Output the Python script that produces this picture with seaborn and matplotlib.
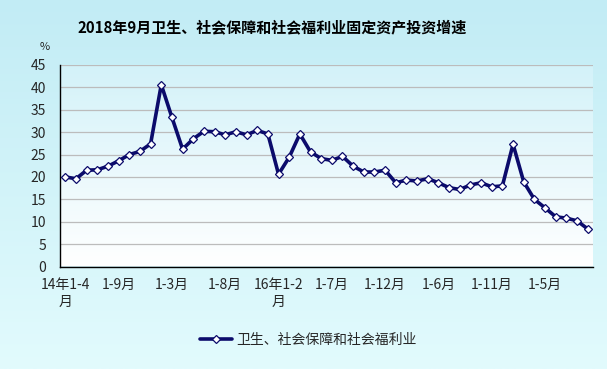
import numpy as np
import pandas as pd
import matplotlib
matplotlib.use("Agg")
import matplotlib.pyplot as plt
import seaborn as sns
from matplotlib.lines import Line2D
from matplotlib.colors import LinearSegmentedColormap

# ---------------- data ----------------
title = "2018年9月卫生、社会保障和社会福利业固定资产投资增速"
series_name = "卫生、社会保障和社会福利业"

periods_2014 = ["2014年1-4月", "2014年1-5月", "2014年1-6月", "2014年1-7月", "2014年1-8月",
                "2014年1-9月", "2014年1-10月", "2014年1-11月", "2014年1-12月"]
periods_2015 = ["2015年1-2月", "2015年1-3月", "2015年1-4月", "2015年1-5月", "2015年1-6月",
                "2015年1-7月", "2015年1-8月", "2015年1-9月", "2015年1-10月", "2015年1-11月",
                "2015年1-12月"]
periods_2016 = ["2016年1-2月", "2016年1-3月", "2016年1-4月", "2016年1-5月", "2016年1-6月",
                "2016年1-7月", "2016年1-8月", "2016年1-9月", "2016年1-10月", "2016年1-11月",
                "2016年1-12月"]
periods_2017 = ["2017年1-2月", "2017年1-3月", "2017年1-4月", "2017年1-5月", "2017年1-6月",
                "2017年1-7月", "2017年1-8月", "2017年1-9月", "2017年1-10月", "2017年1-11月",
                "2017年1-12月"]
periods_2018 = ["2018年1-2月", "2018年1-3月", "2018年1-4月", "2018年1-5月", "2018年1-6月",
                "2018年1-7月", "2018年1-8月", "2018年1-9月"]

values_2014 = [20.0, 19.6, 21.5, 21.6, 22.4, 23.6, 25.0, 25.7, 27.4]
values_2015 = [40.6, 33.3, 26.2, 28.5, 30.2, 30.1, 29.4, 30.1, 29.4, 30.4, 29.6]
values_2016 = [20.6, 24.4, 29.6, 25.6, 24.1, 23.7, 24.6, 22.4, 21.1, 21.1, 21.5]
values_2017 = [18.7, 19.3, 19.1, 19.6, 18.7, 17.6, 17.2, 18.2, 18.7, 17.8, 18.0]
values_2018 = [27.3, 18.9, 15.0, 13.1, 11.1, 10.8, 10.2, 8.4]

tick_periods = ["2014年1-4月", "2014年1-9月", "2015年1-3月", "2015年1-8月", "2016年1-2月",
                "2016年1-7月", "2016年1-12月", "2017年1-6月", "2017年1-11月", "2018年1-5月"]
tick_labels = ["14年1-4\n月", "1-9月", "1-3月", "1-8月", "16年1-2\n月",
               "1-7月", "1-12月", "1-6月", "1-11月", "1-5月"]
y_ticks = [0, 5, 10, 15, 20, 25, 30, 35, 40, 45]

periods = periods_2014 + periods_2015 + periods_2016 + periods_2017 + periods_2018
values = values_2014 + values_2015 + values_2016 + values_2017 + values_2018
df = pd.DataFrame({"period": periods, "value": values})
df["pos"] = np.arange(len(df))

# ---------------- style ----------------
sns.set_style("white")
plt.rcParams["font.family"] = ["Noto Sans CJK SC", "DejaVu Sans"]

navy = "#0b0b6b"
W, H = 607, 369
fig = plt.figure(figsize=(W / 100, H / 100), dpi=100)

# figure background gradient
bg = fig.add_axes([0, 0, 1, 1], zorder=-10)
bg.axis("off")
cmap_bg = LinearSegmentedColormap.from_list("bg", ["#c2ecf5", "#e2fbfd"])
bg.imshow(np.linspace(0, 1, 256).reshape(-1, 1), aspect="auto", cmap=cmap_bg,
          extent=[0, 1, 0, 1], origin="upper")

left, right = 60 / W, 593 / W
bottom, top = 1 - 266.5 / H, 1 - 65 / H
ax = fig.add_axes([left, bottom, right - left, top - bottom])

# plot-area gradient
cmap_ax = LinearSegmentedColormap.from_list("pa", ["#d3f2f9", "#ffffff"])
ax.imshow(np.linspace(0, 1, 256).reshape(-1, 1), aspect="auto", cmap=cmap_ax,
          extent=[0, 1, 0, 1], origin="upper", transform=ax.transAxes, zorder=0)

sns.lineplot(data=df, x="pos", y="value", ax=ax, color=navy, linewidth=2.6,
             marker="D", markersize=3.8, markerfacecolor="white",
             markeredgecolor=navy, markeredgewidth=0.9, zorder=5)

ax.set_xlim(-0.5, len(df) - 0.5)
ax.set_ylim(0, 45)
ax.set_yticks(y_ticks)
ax.set_yticklabels([str(v) for v in y_ticks], fontsize=10)
tick_pos = [periods.index(p) for p in tick_periods]
ax.set_xticks(tick_pos)
ax.set_xticklabels(tick_labels, fontsize=10, linespacing=1.3)
ax.set_xticks(np.arange(-0.5, len(df), 1.0), minor=True)
ax.tick_params(axis="x", which="major", length=0, pad=8)
ax.tick_params(axis="x", which="minor", direction="in", length=4, width=0.8, color="black")
ax.tick_params(axis="y", direction="in", length=5, width=0.8, color="black", pad=10)
for lbl in ax.get_xticklabels():
    lbl.set_verticalalignment("top")

ax.set_xlabel("")
ax.set_ylabel("")
ax.grid(axis="y", color="#bcbcbc", linewidth=0.9, zorder=1)
ax.set_axisbelow(True)
ax.set_facecolor("none")
for s in ["top", "right"]:
    ax.spines[s].set_visible(False)
for s in ["left", "bottom"]:
    ax.spines[s].set_color("black")
    ax.spines[s].set_linewidth(1.0)

fig.text(272 / W, 1 - 27 / H, title, ha="center", va="center",
         fontsize=10.8, fontweight="bold", color="black")
fig.text(45 / W, 1 - 47 / H, "%", ha="center", va="center", fontsize=8)

handle = Line2D([], [], color=navy, linewidth=2.6, marker="D", markersize=3.8,
                markerfacecolor="white", markeredgecolor=navy, markeredgewidth=0.9)
fig.legend([handle], [series_name], loc="center", bbox_to_anchor=(308 / W, 1 - 340 / H),
           frameon=False, fontsize=10, handlelength=2.3, handletextpad=0.3)

fig.savefig("out.png", dpi=100)
